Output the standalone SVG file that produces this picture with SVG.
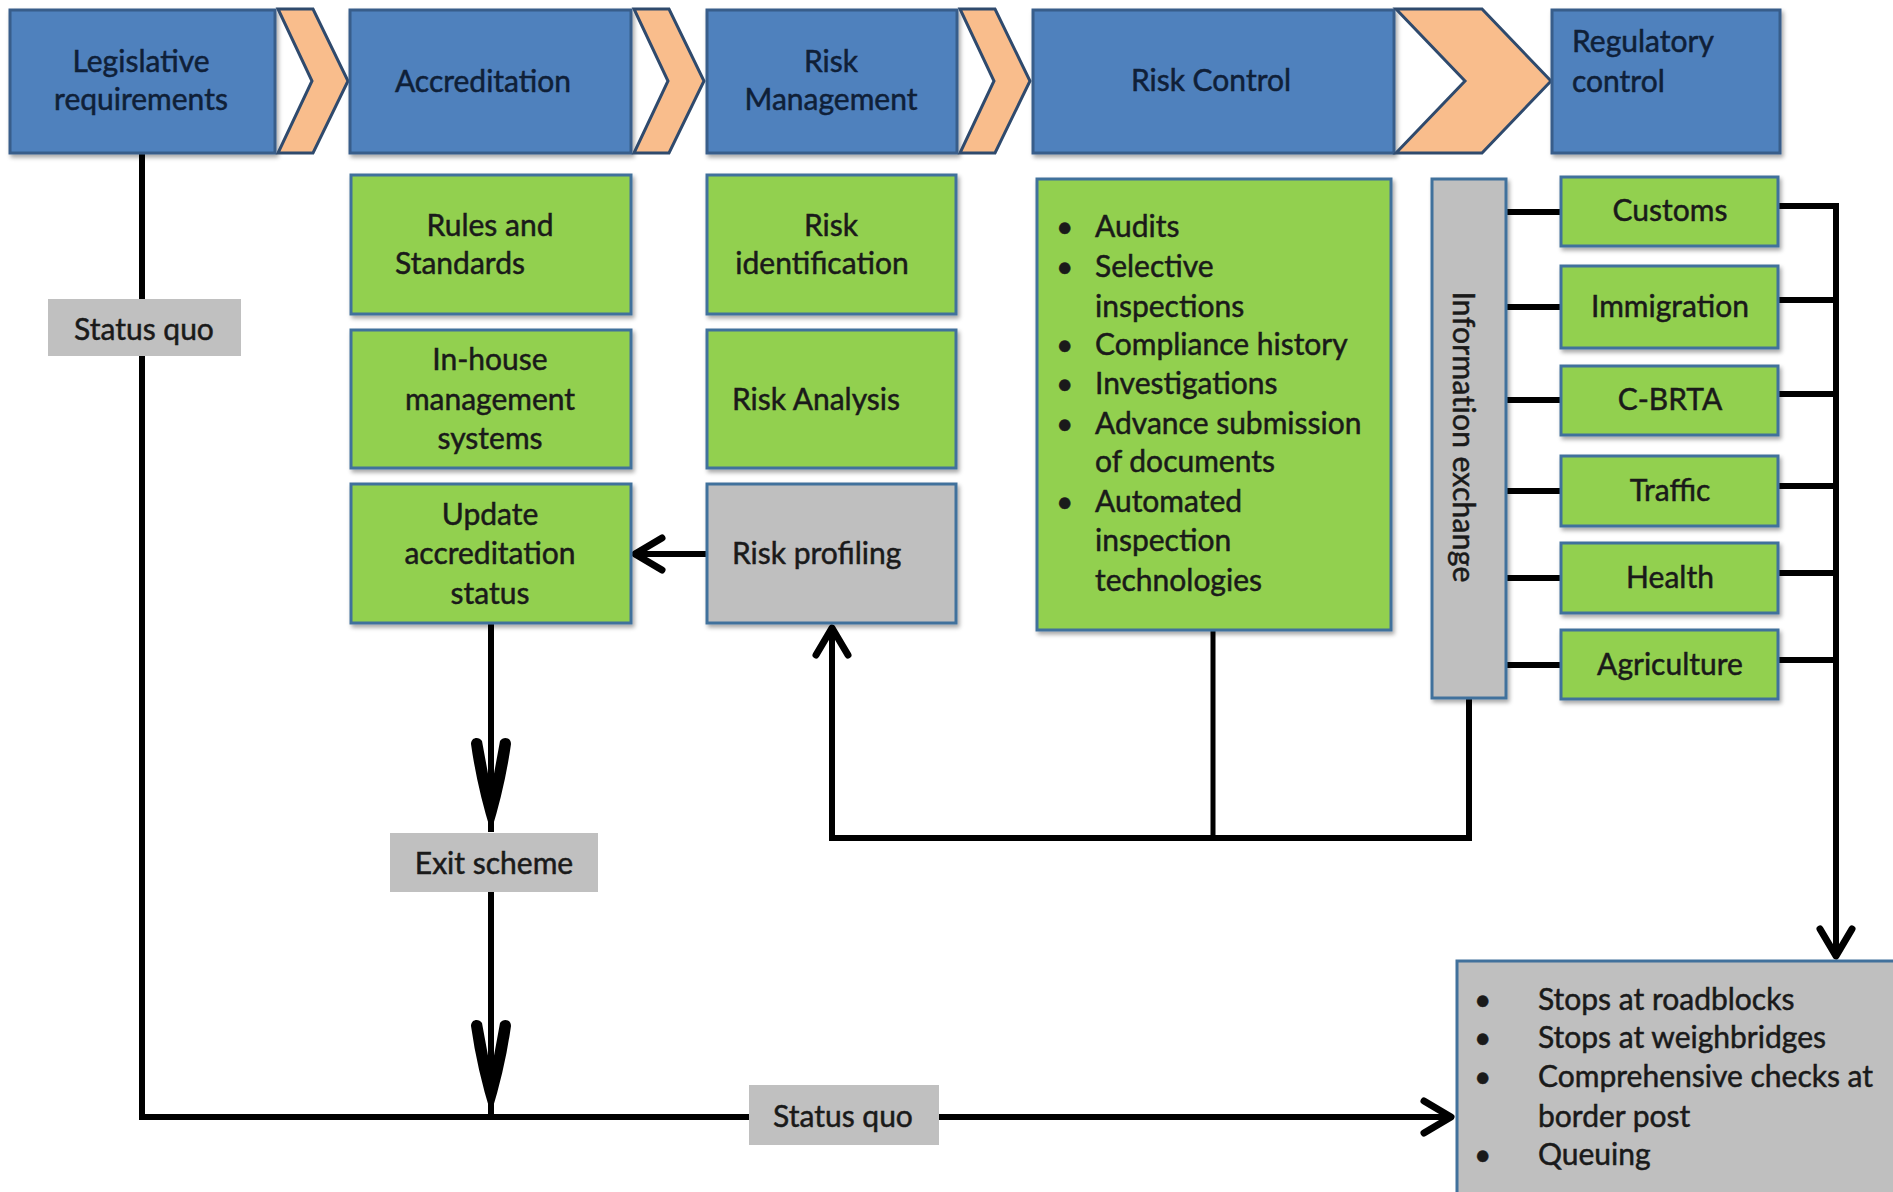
<svg xmlns="http://www.w3.org/2000/svg" width="1893" height="1192" viewBox="0 0 1893 1192">
<defs>
<style>
.hdr{fill:#4f81bd;stroke:#385d8a;stroke-width:3}
.chev{fill:#f9bd8c;stroke:#2f4a6d;stroke-width:3;stroke-linejoin:miter}
.grn{fill:#92d050;stroke:#41719c;stroke-width:3}
.gry{fill:#bfbfbf;stroke:#41719c;stroke-width:3}
.lbl{fill:#c0c0c0}
text{font-family:Lato,"Liberation Sans",sans-serif;font-size:30px;fill:#1a1a1a;stroke:#1a1a1a;stroke-width:0.5}
.ht{fill:#0f2038;stroke:#0f2038}
.c{text-anchor:middle}
.ln{fill:none;stroke:#000;stroke-width:6}
.thin{stroke-width:5}
</style>
<filter id="sh" x="-5%" y="-5%" width="115%" height="120%"><feDropShadow dx="2" dy="3" stdDeviation="2" flood-color="#000" flood-opacity="0.35"/></filter>
<marker id="open" markerUnits="userSpaceOnUse" markerWidth="44" markerHeight="44" viewBox="-36 -22 44 44" refX="0" refY="0" orient="auto">
<path d="M-28,-16 L-1,0 L-28,16" fill="none" stroke="#000" stroke-width="7" stroke-linecap="round" stroke-linejoin="round"/>
</marker>
<marker id="stealth" markerUnits="userSpaceOnUse" markerWidth="110" markerHeight="50" viewBox="-100 -25 110 50" refX="0" refY="0" orient="auto">
<path d="M0,0 Q-45,-14 -88,-20 C-95,-20 -96,-12 -91,-9 L-42,0 L-91,9 C-96,12 -95,20 -88,20 Q-45,14 0,0 Z" fill="#000"/>
</marker>
</defs>

<g id="connectors">
<path class="ln" d="M142,153 V1117 H1452" marker-end="url(#open)"/>
<path class="ln" d="M491,623 V832" marker-end="url(#stealth)"/>
<path class="ln" d="M491,892 V1114" marker-end="url(#stealth)"/>
<path class="ln" d="M707,554 H634" marker-end="url(#open)"/>
<path class="ln" d="M1469,698 V838 H832 V627" marker-end="url(#open)"/>
<path class="ln thin" d="M1213,630 V838"/>
<path class="ln" d="M1506,212 H1561 M1506,307 H1561 M1506,400 H1561 M1506,491 H1561 M1506,578 H1561 M1506,665 H1561"/>
<path class="ln" d="M1778,206 H1839 M1778,300 H1839 M1778,394 H1839 M1778,486 H1839 M1778,573 H1839 M1778,660 H1839"/>
<path class="ln" d="M1836,203 V957" marker-end="url(#open)"/>
</g>

<g id="legislative">
<rect class="hdr" x="10" y="10" width="265" height="143" filter="url(#sh)"/>
<polygon class="chev" points="278,9 313,9 348,81 313,153 278,153 312,81"/>
<text class="ht c" x="141" y="72">Legislative</text>
<text class="ht c" x="141" y="110">requirements</text>
</g>
<g id="accreditation">
<rect class="hdr" x="350" y="10" width="281" height="143" filter="url(#sh)"/>
<polygon class="chev" points="634,9 669,9 704,81 669,153 634,153 668,81"/>
<text class="ht c" x="483" y="92">Accreditation</text>
</g>
<g id="risk-management">
<rect class="hdr" x="707" y="10" width="250" height="143" filter="url(#sh)"/>
<polygon class="chev" points="960,9 995,9 1030,81 995,153 960,153 994,81"/>
<text class="ht c" x="831" y="72">Risk</text>
<text class="ht c" x="831" y="110">Management</text>
</g>
<g id="risk-control">
<rect class="hdr" x="1033" y="10" width="361" height="143" filter="url(#sh)"/>
<polygon class="chev" points="1396,9 1482,9 1551,81 1482,153 1396,153 1465,81"/>
<text class="ht c" x="1211" y="91">Risk Control</text>
</g>
<g id="regulatory-control">
<rect class="hdr" x="1552" y="10" width="228" height="143" filter="url(#sh)"/>
<text class="ht" x="1572" y="52">Regulatory</text>
<text class="ht" x="1572" y="92">control</text>
</g>

<g id="status-quo-left">
<rect class="lbl" x="48" y="299" width="193" height="57"/>
<text class="c" x="144" y="340">Status quo</text>
</g>

<g id="rules-standards">
<rect class="grn" x="351" y="175" width="280" height="139" filter="url(#sh)"/>
<text class="c" x="490" y="236">Rules and</text>
<text class="c" x="460" y="274">Standards</text>
</g>
<g id="in-house">
<rect class="grn" x="351" y="330" width="280" height="138" filter="url(#sh)"/>
<text class="c" x="490" y="370">In-house</text>
<text class="c" x="490" y="410">management</text>
<text class="c" x="490" y="449">systems</text>
</g>
<g id="update-accreditation">
<rect class="grn" x="351" y="484" width="280" height="139" filter="url(#sh)"/>
<text class="c" x="490" y="525">Update</text>
<text class="c" x="490" y="564">accreditation</text>
<text class="c" x="490" y="604">status</text>
</g>

<g id="risk-identification">
<rect class="grn" x="707" y="175" width="249" height="139" filter="url(#sh)"/>
<text class="c" x="831" y="236">Risk</text>
<text class="c" x="822" y="274">identification</text>
</g>
<g id="risk-analysis">
<rect class="grn" x="707" y="330" width="249" height="138" filter="url(#sh)"/>
<text x="732" y="410">Risk Analysis</text>
</g>
<g id="risk-profiling">
<rect class="gry" x="707" y="484" width="249" height="139" filter="url(#sh)"/>
<text x="732" y="564">Risk profiling</text>
</g>

<g id="risk-control-measures">
<rect class="grn" x="1037" y="179" width="354" height="451" filter="url(#sh)"/>
<text x="1056" y="237">•</text><text x="1095" y="237">Audits</text>
<text x="1056" y="277">•</text><text x="1095" y="277">Selective</text>
<text x="1095" y="317">inspections</text>
<text x="1056" y="355">•</text><text x="1095" y="355">Compliance history</text>
<text x="1056" y="394">•</text><text x="1095" y="394">Investigations</text>
<text x="1056" y="434">•</text><text x="1095" y="434">Advance submission</text>
<text x="1095" y="472">of documents</text>
<text x="1056" y="512">•</text><text x="1095" y="512">Automated</text>
<text x="1095" y="551">inspection</text>
<text x="1095" y="591">technologies</text>
</g>

<g id="information-exchange">
<rect class="gry" x="1432" y="179" width="74" height="519" filter="url(#sh)"/>
<text class="c" transform="translate(1463,437) rotate(90)" x="0" y="10" style="letter-spacing:0.3px">Information exchange</text>
</g>

<g id="customs">
<rect class="grn" x="1561" y="177" width="217" height="69" filter="url(#sh)"/>
<text class="c" x="1670" y="221">Customs</text>
</g>
<g id="immigration">
<rect class="grn" x="1561" y="266" width="217" height="82" filter="url(#sh)"/>
<text class="c" x="1670" y="317">Immigration</text>
</g>
<g id="c-brta">
<rect class="grn" x="1561" y="366" width="217" height="69" filter="url(#sh)"/>
<text class="c" x="1670" y="410">C-BRTA</text>
</g>
<g id="traffic">
<rect class="grn" x="1561" y="456" width="217" height="70" filter="url(#sh)"/>
<text class="c" x="1670" y="501">Traffic</text>
</g>
<g id="health">
<rect class="grn" x="1561" y="543" width="217" height="70" filter="url(#sh)"/>
<text class="c" x="1670" y="588">Health</text>
</g>
<g id="agriculture">
<rect class="grn" x="1561" y="630" width="217" height="69" filter="url(#sh)"/>
<text class="c" x="1670" y="675">Agriculture</text>
</g>

<g id="exit-scheme">
<rect class="lbl" x="390" y="833" width="208" height="59"/>
<text class="c" x="494" y="874">Exit scheme</text>
</g>
<g id="status-quo-bottom">
<rect class="lbl" x="749" y="1085" width="190" height="60"/>
<text class="c" x="843" y="1127">Status quo</text>
</g>

<g id="current-checks">
<rect class="gry" x="1457" y="961" width="440" height="235"/>
<text x="1474" y="1010">•</text><text x="1538" y="1010">Stops at roadblocks</text>
<text x="1474" y="1048">•</text><text x="1538" y="1048">Stops at weighbridges</text>
<text x="1474" y="1087">•</text><text x="1538" y="1087">Comprehensive checks at</text>
<text x="1538" y="1127">border post</text>
<text x="1474" y="1165">•</text><text x="1538" y="1165">Queuing</text>
</g>
</svg>
